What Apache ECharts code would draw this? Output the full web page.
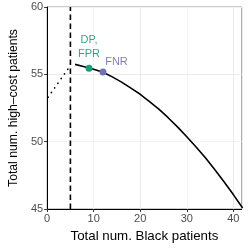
<!DOCTYPE html>
<html><head><meta charset="utf-8">
<script src="https://cdn.jsdelivr.net/npm/echarts@6/dist/echarts.min.js"></script>
<style>html,body{margin:0;padding:0;background:#fff}#c{width:250px;height:250px}</style>
</head><body><div id="c"></div>
<script>
var curveX = [6, 8, 10, 12, 14, 16, 18, 20, 22, 24, 26, 28, 30, 32, 34, 36, 38, 40, 42];
var curveY = [55.74, 55.57, 55.37, 55.15, 54.81, 54.42, 53.98, 53.52, 52.98, 52.42, 51.78, 51.1, 50.37, 49.61, 48.8, 47.94, 47.03, 46.07, 45.07];
var dottedX = [0.2, 5];
var dottedY = [53.3, 55.65];
var cutoffX = 5;
var pointNames = ['DP,\nFPR', 'FNR'];
var pointX = [9, 12];
var pointY = [55.45, 55.17];
var labelX = [9, 14.9];
var labelY = [57.0, 55.95];
var pointColors = ['#1b9e77', '#7570b3'];
var xTicks = [0, 10, 20, 30, 40];
var yTicks = [45, 50, 55, 60];

var font = 'Liberation Sans, Arial, Helvetica, sans-serif';
var chart = echarts.init(document.getElementById('c'), null, {renderer: 'canvas'});
var series = [];
series.push({type: 'line', data: curveX.map(function(x, i){return [x, curveY[i]];}), showSymbol: false, symbol: 'none',
  lineStyle: {color: '#000', width: 1.6}, clip: true, z: 3});
series.push({type: 'line', data: dottedX.map(function(x, i){return [x, dottedY[i]];}), symbol: 'none',
  lineStyle: {color: '#000', width: 1.7, type: [0.1, 5.6], cap: 'round'}, z: 3});
series.push({type: 'line', data: [[cutoffX, 45], [cutoffX, 60]], symbol: 'none',
  lineStyle: {color: '#000', width: 1.6, type: [5.5, 3.5]}, z: 3});
pointNames.forEach(function(n, i){
  series.push({type: 'scatter', data: [[pointX[i], pointY[i]]], symbolSize: 7,
    itemStyle: {color: pointColors[i], opacity: 1}, z: 4});
  series.push({type: 'scatter', data: [[labelX[i], labelY[i]]], symbolSize: 0, silent: true,
    label: {show: true, position: 'inside', formatter: n, color: pointColors[i], fontFamily: font, fontSize: 11, lineHeight: 14, opacity: 0.9}, z: 5});
});
chart.setOption({
  animation: false,
  grid: {left: 42, right: 8.3, top: 7, bottom: 41, show: true, borderColor: '#9a9a9a', borderWidth: 1},
  xAxis: {type: 'value', min: 0, max: 41.8, interval: 5,
    name: 'Total num. Black patients', nameLocation: 'middle', nameGap: 21,
    nameTextStyle: {fontFamily: font, fontSize: 13.3, color: '#000'},
    axisLine: {show: true, onZero: false, lineStyle: {color: '#000', width: 1}},
    axisTick: {show: true, length: 3, customValues: xTicks, lineStyle: {color: '#333'}},
    axisLabel: {customValues: xTicks, fontFamily: font, fontSize: 11, color: '#4d4d4d', margin: 4},
    splitLine: {show: true, lineStyle: {color: ['#ebebeb', '#f3f3f3'], width: 1}}},
  yAxis: {type: 'value', min: 45, max: 60, interval: 2.5,
    name: 'Total num. high–cost patients', nameLocation: 'middle', nameGap: 26,
    nameTextStyle: {fontFamily: font, fontSize: 12.2, color: '#000'},
    axisLine: {show: true, onZero: false, lineStyle: {color: '#000', width: 1}},
    axisTick: {show: true, length: 3, customValues: yTicks, lineStyle: {color: '#333'}},
    axisLabel: {customValues: yTicks, fontFamily: font, fontSize: 11, color: '#4d4d4d', margin: 4},
    splitLine: {show: true, lineStyle: {color: ['#ebebeb', '#f3f3f3'], width: 1}}},
  series: series
});
</script></body></html>
